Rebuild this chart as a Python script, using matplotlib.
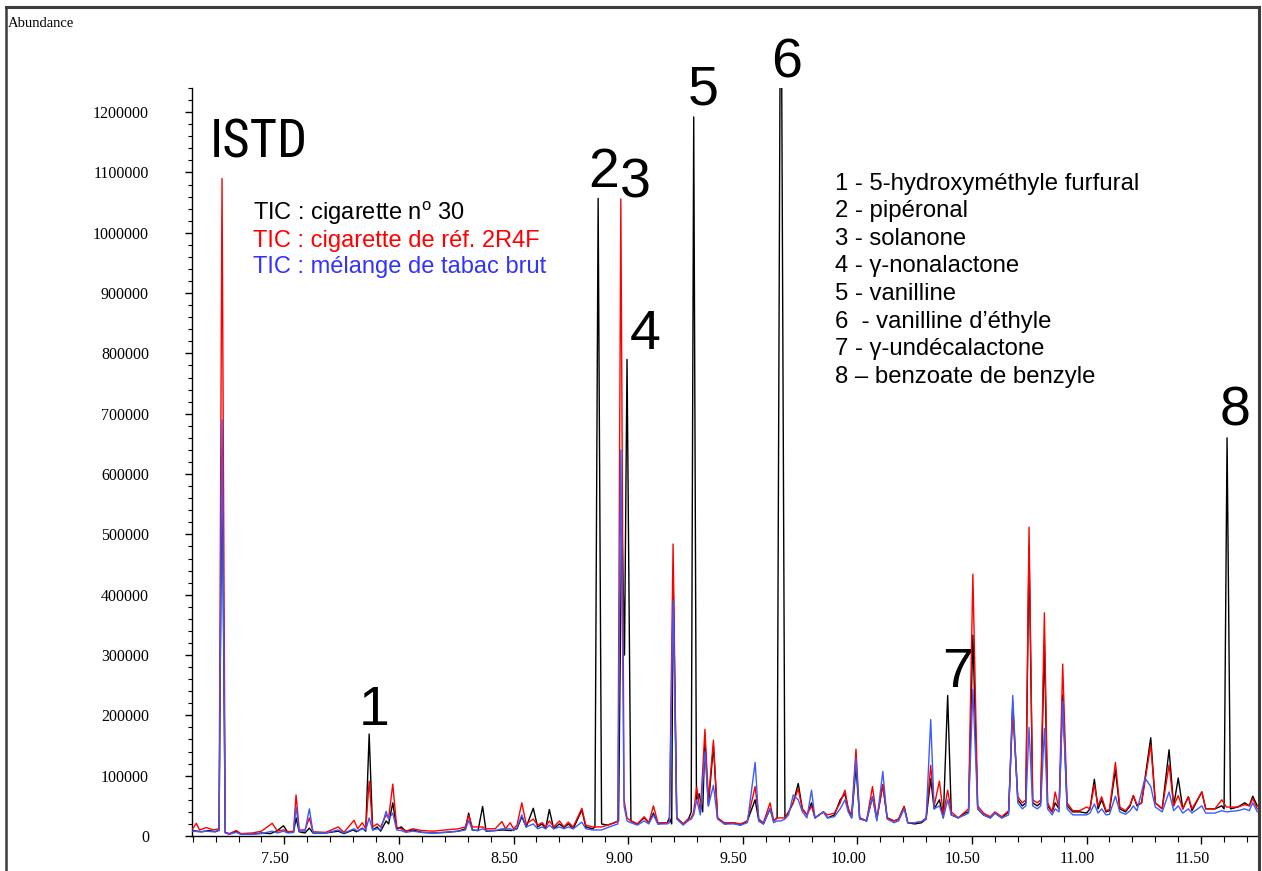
import matplotlib
matplotlib.use("Agg")
import matplotlib.pyplot as plt
from matplotlib import font_manager
from matplotlib.lines import Line2D
from matplotlib.transforms import ScaledTranslation
import numpy as np

# ---------------- data ----------------
black_t = [7.10, 7.14, 7.17, 7.20, 7.215, 7.228, 7.242, 7.26, 7.29, 7.31, 7.36, 7.40, 7.44, 7.47, 7.496, 7.515,
           7.54, 7.551, 7.565, 7.59, 7.609, 7.625, 7.68, 7.735, 7.76, 7.80, 7.815, 7.84, 7.855, 7.870, 7.885,
           7.905, 7.92, 7.944, 7.955, 7.973, 7.99, 8.01, 8.03, 8.06, 8.10, 8.15, 8.20, 8.26, 8.29, 8.304, 8.32,
           8.345, 8.365, 8.38, 8.42, 8.45, 8.49, 8.515, 8.536, 8.555, 8.586, 8.605, 8.625, 8.64, 8.656, 8.675,
           8.70, 8.72, 8.739, 8.76, 8.798, 8.815, 8.845, 8.855, 8.869, 8.884, 8.91, 8.94, 8.958, 8.972, 8.984,
           8.995, 9.012, 9.04, 9.07, 9.09, 9.11, 9.13, 9.17, 9.18, 9.19, 9.196, 9.212, 9.24, 9.26, 9.275, 9.286,
           9.298, 9.31, 9.325, 9.335, 9.35, 9.372, 9.39, 9.42, 9.46, 9.49, 9.52, 9.554, 9.57, 9.59, 9.619, 9.635,
           9.65, 9.666, 9.684, 9.70, 9.72, 9.742, 9.76, 9.78, 9.80, 9.815, 9.852, 9.87, 9.90, 9.925, 9.946, 9.96,
           9.975, 9.994, 10.01, 10.04, 10.066, 10.085, 10.111, 10.13, 10.16, 10.18, 10.204, 10.22, 10.25, 10.28,
           10.30, 10.32, 10.335, 10.358, 10.375, 10.394, 10.41, 10.44, 10.47, 10.485, 10.504, 10.525, 10.55,
           10.58, 10.60, 10.63, 10.66, 10.678, 10.70, 10.72, 10.735, 10.749, 10.765, 10.785, 10.80, 10.816,
           10.83, 10.85, 10.863, 10.88, 10.896, 10.915, 10.94, 10.97, 11.00, 11.015, 11.034, 11.05, 11.066,
           11.085, 11.10, 11.126, 11.145, 11.17, 11.19, 11.204, 11.22, 11.24, 11.28, 11.30, 11.33, 11.36, 11.38,
           11.40, 11.42, 11.444, 11.46, 11.503, 11.52, 11.56, 11.59, 11.60, 11.613, 11.628, 11.66, 11.69, 11.71,
           11.725, 11.745]
black_y = [9000, 7000, 9000, 7000, 10000, 640000, 6000, 3000, 8000, 3000, 3000, 5000, 4000, 9000, 17000, 6000,
           6000, 30000, 7000, 5000, 13000, 5000, 5000, 8000, 4000, 10000, 7000, 13000, 8000, 169000, 10000,
           15000, 8000, 25000, 20000, 55000, 12000, 15000, 8000, 10000, 6000, 5000, 6000, 8000, 12000, 38000, 10000,
           9000, 49000, 8000, 9000, 10000, 9000, 12000, 32000, 15000, 46000, 15000, 20000, 12000, 44000, 12000,
           20000, 14000, 20000, 12000, 43000, 15000, 12000, 15000, 1057000, 20000, 18000, 22000, 25000, 540000, 300000,
           790000, 25000, 20000, 30000, 22000, 38000, 20000, 22000, 30000, 20000, 440000, 30000, 20000, 25000, 40000, 1192000,
           60000, 70000, 40000, 159000, 50000, 150000, 30000, 20000, 22000, 18000, 25000, 60000, 25000, 20000, 45000, 25000,
           30000, 1600000, 30000, 40000, 55000, 87000, 45000, 35000, 55000, 30000, 40000, 30000, 35000, 60000, 70000, 45000,
           30000, 115000, 30000, 25000, 65000, 28000, 85000, 30000, 25000, 28000, 49000, 22000, 20000, 22000,
           28000, 95000, 45000, 60000, 30000, 233000, 35000, 30000, 38000, 40000, 333000, 45000, 35000,
           30000, 38000, 30000, 40000, 220000, 60000, 50000, 55000, 480000, 55000, 50000, 55000, 319000,
           50000, 40000, 55000, 45000, 234000, 50000, 40000, 40000, 38000, 45000, 94000, 45000, 60000,
           40000, 42000, 109000, 45000, 40000, 50000, 67000, 50000, 55000, 163000, 55000, 45000, 143000, 50000,
           96000, 45000, 65000, 42000, 73000, 45000, 45000, 50000, 45000, 660000, 45000, 48000, 55000, 50000,
           66000, 50000]

red_t = [7.10, 7.116, 7.13, 7.16, 7.19, 7.215, 7.228, 7.242, 7.26, 7.29, 7.31, 7.36, 7.40, 7.447, 7.47, 7.496,
         7.515, 7.54, 7.551, 7.565, 7.59, 7.609, 7.625, 7.68, 7.735, 7.76, 7.804, 7.82, 7.84, 7.855, 7.870,
         7.885, 7.905, 7.92, 7.944, 7.955, 7.973, 7.99, 8.01, 8.03, 8.06, 8.10, 8.15, 8.20, 8.26, 8.29, 8.304,
         8.32, 8.345, 8.365, 8.38, 8.42, 8.449, 8.465, 8.485, 8.50, 8.515, 8.536, 8.555, 8.586, 8.605, 8.625,
         8.64, 8.656, 8.675, 8.70, 8.72, 8.739, 8.76, 8.798, 8.815, 8.845, 8.869, 8.884, 8.91, 8.94, 8.955,
         8.968, 8.982, 8.995, 9.012, 9.04, 9.07, 9.09, 9.11, 9.13, 9.17, 9.18, 9.196, 9.212, 9.24, 9.26, 9.275,
         9.286, 9.299, 9.315, 9.335, 9.35, 9.372, 9.39, 9.42, 9.46, 9.49, 9.52, 9.554, 9.57, 9.59, 9.619, 9.635,
         9.65, 9.666, 9.684, 9.70, 9.72, 9.742, 9.76, 9.78, 9.80, 9.815, 9.852, 9.87, 9.90, 9.925, 9.946, 9.96,
         9.975, 9.994, 10.01, 10.04, 10.066, 10.085, 10.111, 10.13, 10.16, 10.18, 10.204, 10.22, 10.25, 10.28,
         10.30, 10.32, 10.335, 10.358, 10.375, 10.394, 10.41, 10.44, 10.47, 10.485, 10.504, 10.525, 10.55,
         10.58, 10.60, 10.63, 10.66, 10.678, 10.70, 10.72, 10.735, 10.749, 10.765, 10.785, 10.80, 10.816,
         10.83, 10.85, 10.863, 10.88, 10.896, 10.915, 10.94, 10.97, 11.00, 11.015, 11.034, 11.05, 11.066,
         11.085, 11.10, 11.126, 11.145, 11.17, 11.19, 11.204, 11.22, 11.24, 11.28, 11.30, 11.33, 11.36, 11.38,
         11.40, 11.42, 11.444, 11.46, 11.503, 11.52, 11.56, 11.59, 11.61, 11.66, 11.69, 11.71, 11.725, 11.745]
red_y = [12000, 21000, 10000, 14000, 10000, 12000, 1090000, 6000, 4000, 9000, 4000, 5000, 8000, 21000, 8000, 10000,
         7000, 8000, 68000, 10000, 10000, 30000, 7000, 6000, 15000, 6000, 26000, 12000, 22000, 12000, 91000,
         15000, 20000, 15000, 35000, 30000, 86000, 15000, 12000, 8000, 12000, 9000, 8000, 10000, 12000, 15000, 34000,
         15000, 15000, 15000, 12000, 12000, 24000, 12000, 22000, 12000, 18000, 55000, 20000, 28000, 18000, 22000,
         15000, 25000, 15000, 25000, 15000, 23000, 15000, 46000, 18000, 15000, 15000, 15000, 18000, 22000, 25000,
         1056000, 60000, 30000, 25000, 20000, 32000, 22000, 50000, 22000, 22000, 25000, 484000, 30000, 20000, 28000, 30000,
         40000, 81000, 40000, 177000, 60000, 159000, 30000, 22000, 22000, 20000, 25000, 82000, 28000, 22000, 55000, 25000,
         30000, 30000, 30000, 40000, 55000, 78000, 45000, 35000, 50000, 30000, 40000, 35000, 38000, 55000, 76000, 45000,
         35000, 144000, 30000, 25000, 82000, 28000, 85000, 30000, 25000, 28000, 49000, 22000, 22000, 24000,
         30000, 117000, 50000, 91000, 35000, 76000, 40000, 30000, 40000, 45000, 434000, 50000, 38000,
         32000, 40000, 32000, 42000, 208000, 65000, 55000, 60000, 512000, 60000, 55000, 60000, 370000,
         55000, 40000, 73000, 45000, 285000, 55000, 42000, 42000, 48000, 45000, 85000, 50000, 65000,
         42000, 44000, 122000, 48000, 42000, 52000, 67000, 52000, 55000, 151000, 55000, 45000, 118000, 50000,
         67000, 45000, 65000, 45000, 73000, 45000, 45000, 60000, 48000, 48000, 52000, 50000, 62000, 45000]

blue_t = [7.10, 7.13, 7.16, 7.19, 7.215, 7.228, 7.242, 7.26, 7.29, 7.31, 7.36, 7.40, 7.447, 7.47, 7.496, 7.515,
          7.54, 7.551, 7.565, 7.59, 7.609, 7.625, 7.68, 7.735, 7.76, 7.804, 7.82, 7.84, 7.855, 7.870, 7.885,
          7.905, 7.92, 7.944, 7.955, 7.973, 7.99, 8.01, 8.03, 8.06, 8.10, 8.15, 8.20, 8.26, 8.29, 8.304, 8.32,
          8.345, 8.365, 8.38, 8.42, 8.449, 8.485, 8.50, 8.515, 8.536, 8.555, 8.586, 8.605, 8.625, 8.64, 8.656,
          8.675, 8.70, 8.72, 8.739, 8.76, 8.798, 8.815, 8.845, 8.869, 8.884, 8.91, 8.94, 8.955, 8.968, 8.982,
          8.995, 9.012, 9.04, 9.07, 9.09, 9.11, 9.13, 9.17, 9.18, 9.196, 9.212, 9.24, 9.26, 9.275, 9.286, 9.299,
          9.315, 9.335, 9.35, 9.372, 9.39, 9.42, 9.46, 9.49, 9.52, 9.554, 9.57, 9.59, 9.619, 9.635, 9.65, 9.666,
          9.684, 9.70, 9.72, 9.742, 9.76, 9.78, 9.80, 9.815, 9.852, 9.87, 9.90, 9.925, 9.946, 9.96, 9.975, 9.994,
          10.01, 10.04, 10.066, 10.085, 10.111, 10.13, 10.16, 10.18, 10.204, 10.22, 10.25, 10.28, 10.30, 10.32,
          10.335, 10.358, 10.375, 10.394, 10.41, 10.44, 10.47, 10.485, 10.504, 10.525, 10.55, 10.58, 10.60,
          10.63, 10.66, 10.678, 10.70, 10.72, 10.735, 10.749, 10.765, 10.785, 10.80, 10.816, 10.83, 10.85,
          10.863, 10.88, 10.896, 10.915, 10.94, 10.97, 11.00, 11.015, 11.034, 11.05, 11.066, 11.085, 11.10,
          11.126, 11.145, 11.17, 11.19, 11.204, 11.22, 11.255, 11.28, 11.30, 11.33, 11.36, 11.38, 11.40, 11.42,
          11.444, 11.46, 11.503, 11.52, 11.56, 11.59, 11.61, 11.66, 11.69, 11.71, 11.725, 11.745]
blue_y = [8000, 7000, 8000, 7000, 9000, 690000, 5000, 3000, 6000, 3000, 3000, 4000, 8000, 5000, 8000, 5000,
          6000, 48000, 8000, 8000, 45000, 6000, 5000, 10000, 5000, 12000, 8000, 12000, 10000, 30000, 10000,
          12000, 10000, 41000, 28000, 38000, 10000, 9000, 6000, 8000, 6000, 5000, 6000, 8000, 10000, 26000, 10000,
          9000, 12000, 9000, 9000, 12000, 12000, 9000, 14000, 35000, 15000, 20000, 12000, 15000, 12000, 18000,
          12000, 15000, 12000, 15000, 12000, 23000, 12000, 10000, 10000, 10000, 14000, 18000, 20000, 640000, 50000,
          25000, 22000, 18000, 25000, 20000, 35000, 20000, 20000, 22000, 390000, 28000, 18000, 25000, 28000, 35000, 60000,
          35000, 140000, 50000, 84000, 28000, 20000, 20000, 18000, 22000, 122000, 25000, 20000, 45000, 22000, 25000, 25000,
          28000, 35000, 68000, 60000, 40000, 30000, 76000, 30000, 40000, 30000, 32000, 45000, 60000, 40000, 30000, 129000,
          28000, 25000, 65000, 25000, 107000, 28000, 22000, 25000, 45000, 22000, 22000, 24000, 28000, 193000,
          45000, 50000, 30000, 60000, 35000, 30000, 35000, 38000, 243000, 45000, 35000, 30000, 38000,
          30000, 35000, 233000, 55000, 45000, 50000, 180000, 50000, 45000, 50000, 178000, 45000, 35000,
          45000, 40000, 223000, 45000, 35000, 35000, 35000, 38000, 53000, 38000, 45000, 35000, 36000,
          66000, 40000, 36000, 42000, 50000, 42000, 96000, 82000, 48000, 40000, 73000, 42000, 50000, 38000,
          45000, 38000, 50000, 38000, 38000, 42000, 40000, 42000, 45000, 42000, 55000, 40000]

series_labels = ["TIC : cigarette n$^{\\mathrm{o}}$ 30", "TIC : cigarette de réf. 2R4F", "TIC : mélange de tabac brut"]
peak_names = ["1 - 5-hydroxyméthyle furfural", "2 - pipéronal", "3 - solanone", "4 - γ-nonalactone",
              "5 - vanilline", "6  - vanilline d\u2019éthyle", "7 - γ-undécalactone", "8 \u2013 benzoate de benzyle"]
peak_marks = ["ISTD", "1", "2", "3", "4", "5", "6", "7", "8"]
xticks_major = [7.50, 8.00, 8.50, 9.00, 9.50, 10.00, 10.50, 11.00, 11.50]
yticks_major = list(range(0, 1300000, 100000))

# ---------------- fonts ----------------
names = {f.name for f in font_manager.fontManager.ttflist}
sans = "Liberation Sans" if "Liberation Sans" in names else "DejaVu Sans"
narrow = sans
for cand in ["Liberation Sans Narrow", "Arial Narrow", "Roboto Condensed", "Open Sans Condensed"]:
    if cand in names:
        narrow = cand
        break
serif = "Liberation Serif" if "Liberation Serif" in names else "DejaVu Serif"
plt.rcParams["mathtext.fontset"] = "custom"
plt.rcParams["mathtext.rm"] = sans
plt.rcParams["font.family"] = [sans, "DejaVu Sans"]

W, H = 1262, 871
fig = plt.figure(figsize=(W / 100, H / 100), dpi=100)
ax = fig.add_axes([192 / W, 1 - 836 / H, (1258 - 192) / W, (836 - 88) / H])

c_black, c_red, c_blue = "#000000", "#ff0000", "#3b5bff"
ax.plot(black_t, black_y, color=c_black, lw=1.0, zorder=3)
ax.plot(red_t, red_y, color=c_red, lw=1.0, zorder=4)
ax.plot(blue_t, blue_y, color=c_blue, lw=1.0, zorder=5)

ax.set_xlim(7.097, 11.748)
ax.set_ylim(0, 1240000)
for s in ["top", "right"]:
    ax.spines[s].set_visible(False)
for s in ["left", "bottom"]:
    ax.spines[s].set_linewidth(1.0)

ax.set_xticks(xticks_major)
ax.set_xticklabels([f"{v:.2f}" for v in xticks_major], fontfamily=serif, fontsize=11.5)
ax.set_xticks(np.arange(7.1, 11.75, 0.1), minor=True)
ax.set_yticks(yticks_major)
ax.set_yticklabels([str(v) for v in yticks_major], fontfamily=serif, fontsize=11.5)
ax.set_yticks(np.arange(0, 1240001, 20000), minor=True)
ax.tick_params(axis="x", which="major", length=6, width=1, pad=5)
ax.tick_params(axis="x", which="minor", length=4, width=0.8)
ax.tick_params(axis="y", which="major", length=5, width=1, pad=26)
ax.tick_params(axis="y", which="minor", length=3, width=0.8)
shift = ScaledTranslation(-9 / 100, 0, fig.dpi_scale_trans)
for lab in ax.get_xticklabels():
    lab.set_transform(lab.get_transform() + shift)

# peak marks
mark_pos = [(7.175, 1124000, "left"), (7.892, 184000, "center"), (8.895, 1076000, "center"),
            (9.030, 1059000, "center"), (9.074, 807000, "center"), (9.327, 1212000, "center"),
            (9.693, 1258000, "center"), (10.435, 247000, "center"), (11.648, 681000, "center")]
for lab, (x, y, ha) in zip(peak_marks, mark_pos):
    if lab == "ISTD":
        fs = 38 if narrow != sans else 33
        ax.text(x, y, lab, fontsize=fs, family=narrow, ha=ha, va="baseline", color="black",
                clip_on=False, zorder=10)
    else:
        ax.text(x, y, lab, fontsize=40, family=sans, ha=ha, va="baseline", color="black",
                clip_on=False, zorder=10)

# legend-like text
leg_y = [1021000, 977000, 933000]
for lab, y, c in zip(series_labels, leg_y, ["black", "#ff0000", "#3333ff"]):
    ax.text(7.365, y, lab, fontsize=17, family=sans, color=c, ha="left", va="baseline", zorder=10)

# compound list
for i, name in enumerate(peak_names):
    py = 189.6 + i * 27.6
    ax.text(9.903, (836 - py) / 60.33 * 1e5, name, fontsize=17.2, family=[sans, "DejaVu Sans"],
            color="black", ha="left", va="baseline", zorder=10)

fig.text(8 / W, 1 - 27 / H, "Abundance", fontsize=10.5, family=serif, ha="left", va="baseline")

# outer frame
fc = "#3c3c3c"
fig.add_artist(Line2D([6 / W, 1259 / W], [1 - 7 / H, 1 - 7 / H], color=fc, lw=2.2))
fig.add_artist(Line2D([6 / W, 6 / W], [1 - 7 / H, 0], color=fc, lw=1.8))
fig.add_artist(Line2D([1259 / W, 1259 / W], [1 - 7 / H, 0], color=fc, lw=2.2))

fig.savefig("out.png", dpi=100)
